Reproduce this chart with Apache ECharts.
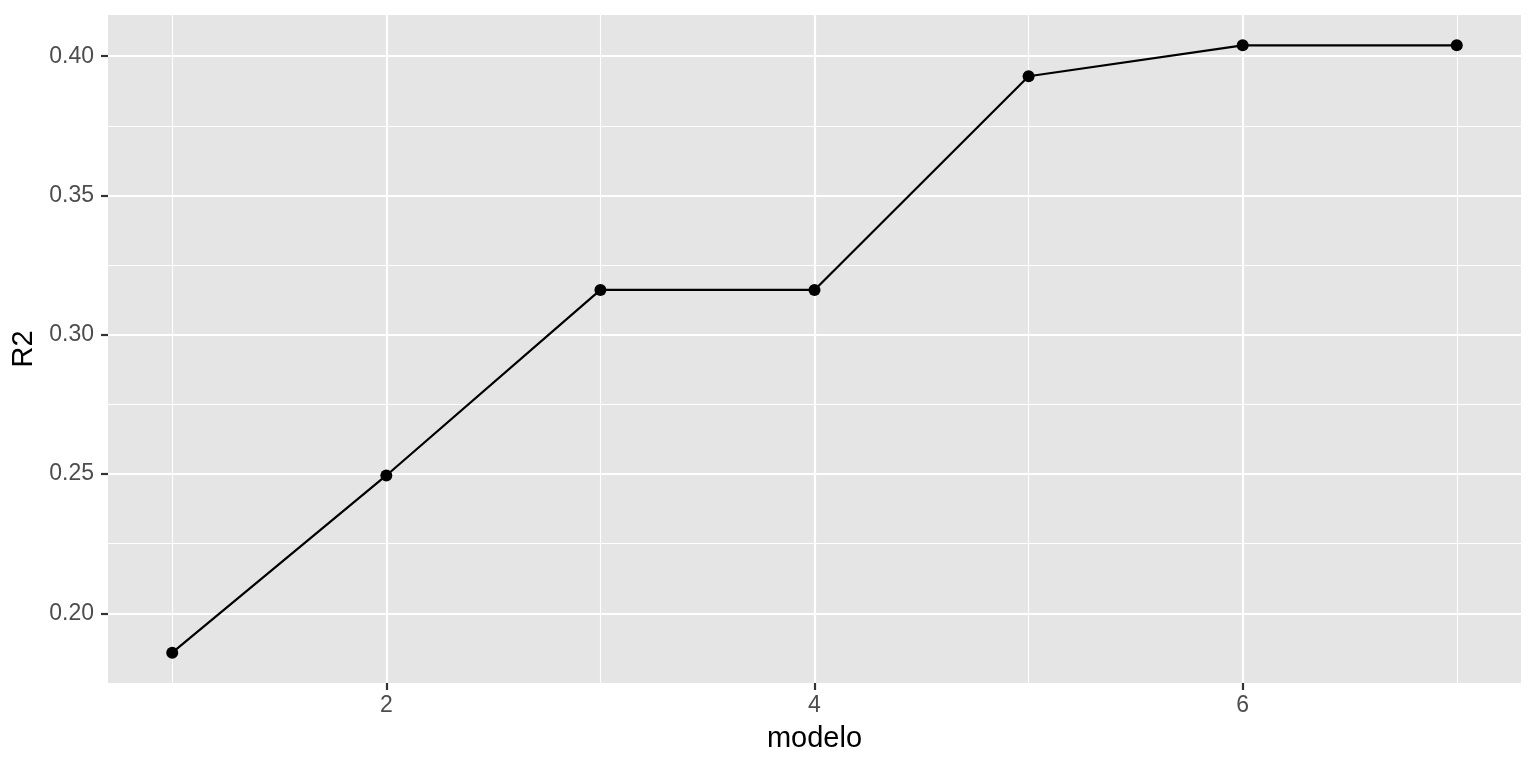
<!DOCTYPE html>
<html>
<head>
<meta charset="utf-8">
<script src="https://cdn.jsdelivr.net/npm/echarts@6/dist/echarts.min.js"></script>
<style>
html,body{margin:0;padding:0;background:#fff;}
#chart{width:1536px;height:768px;}
</style>
</head>
<body>
<div id="chart"></div>
<script>
const modelo = [1, 2, 3, 4, 5, 6, 7];
const r2 = [0.1859, 0.2495, 0.3161, 0.3161, 0.3928, 0.4039, 0.4039];
const xMajorTicks = [2, 4, 6];
const xMinorTicks = [1, 3, 5, 7];
const yMajorTicks = [0.20, 0.25, 0.30, 0.35, 0.40];
const yMinorTicks = [0.225, 0.275, 0.325, 0.375];
const xTitle = 'modelo';
const yTitle = 'R2';

const xMin = 0.7, xMax = 7.3;
const yMin = 0.1750, yMax = 0.4148;

const font = 'Liberation Sans, Arial, Helvetica, sans-serif';
const chart = echarts.init(document.getElementById('chart'), null, {renderer: 'canvas'});

const gridLineMajor = {show: true, lineStyle: {color: '#FFFFFF', width: 2.2}};
const gridLineMinor = {show: true, lineStyle: {color: '#FFFFFF', width: 1.1}};

chart.setOption({
  animation: false,
  backgroundColor: '#FFFFFF',
  grid: {
    left: 108, top: 15, width: 1413, height: 668,
    show: true, backgroundColor: '#E5E5E5', borderWidth: 0,
    containLabel: false
  },
  xAxis: [
    {
      type: 'value', min: xMin, max: xMax,
      name: xTitle, nameLocation: 'middle', nameGap: 41,
      nameTextStyle: {color: '#000000', fontSize: 29, fontFamily: font},
      axisLine: {show: false},
      axisTick: {show: true, length: 7, customValues: xMajorTicks, lineStyle: {color: '#333333', width: 2.2}},
      axisLabel: {show: true, customValues: xMajorTicks, margin: 11, color: '#4D4D4D', fontSize: 23, fontFamily: font},
      splitLine: gridLineMajor,
      z: 2
    },
    {
      type: 'value', min: xMin, max: xMax, position: 'bottom',
      axisLine: {show: false},
      axisTick: {show: false, customValues: xMinorTicks},
      axisLabel: {show: false, customValues: xMinorTicks},
      splitLine: gridLineMinor,
      z: 1
    }
  ],
  yAxis: [
    {
      type: 'value', min: yMin, max: yMax,
      name: yTitle, nameLocation: 'middle', nameGap: 68, nameRotate: 90,
      nameTextStyle: {color: '#000000', fontSize: 29, fontFamily: font},
      axisLine: {show: false},
      axisTick: {show: true, length: 7, customValues: yMajorTicks, lineStyle: {color: '#333333', width: 2.2}},
      axisLabel: {show: true, customValues: yMajorTicks, margin: 14, color: '#4D4D4D', fontSize: 23, fontFamily: font,
        formatter: v => v.toFixed(2)},
      splitLine: gridLineMajor,
      z: 2
    },
    {
      type: 'value', min: yMin, max: yMax, position: 'left',
      axisLine: {show: false},
      axisTick: {show: false, customValues: yMinorTicks},
      axisLabel: {show: false, customValues: yMinorTicks},
      splitLine: gridLineMinor,
      z: 1
    }
  ],
  series: [{
    type: 'line',
    xAxisIndex: 0, yAxisIndex: 0,
    data: modelo.map((m, i) => [m, r2[i]]),
    symbol: 'circle', symbolSize: 12,
    showSymbol: true,
    lineStyle: {color: '#000000', width: 2.2},
    itemStyle: {color: '#000000'},
    z: 5
  }]
});
</script>
</body>
</html>
